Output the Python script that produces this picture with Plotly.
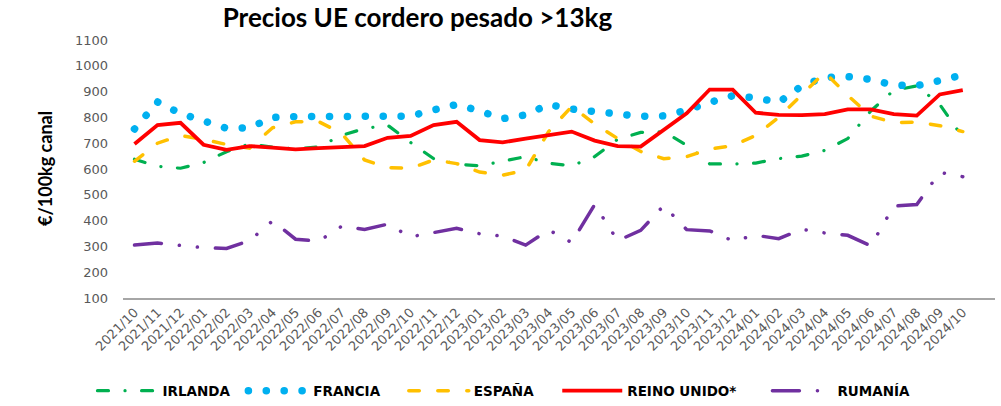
import plotly.graph_objects as go

months = ["2021/10", "2021/11", "2021/12",
          "2022/01", "2022/02", "2022/03", "2022/04", "2022/05", "2022/06",
          "2022/07", "2022/08", "2022/09", "2022/10", "2022/11", "2022/12",
          "2023/01", "2023/02", "2023/03", "2023/04", "2023/05", "2023/06",
          "2023/07", "2023/08", "2023/09", "2023/10", "2023/11", "2023/12",
          "2024/01", "2024/02", "2024/03", "2024/04", "2024/05", "2024/06",
          "2024/07", "2024/08", "2024/09", "2024/10"]

irlanda = [638, 610, 603, 625, 667, 697, 685, 678, 686, 730, 757, 770, 703,
           640, 619, 612, 630, 648, 622, 612, 648, 715, 742, 745, 692, 620,
           619, 623, 640, 650, 672, 718, 825, 905, 922, 850, 722]
francia = [755, 860, 815, 783, 758, 760, 800, 803, 802, 806, 802, 800, 805,
           829, 850, 825, 795, 810, 850, 832, 822, 817, 804, 806, 828, 858,
           884, 876, 858, 922, 955, 958, 947, 925, 923, 943, 965]
espana = [630, 700, 730, 715, 695, 681, 760, 783, 784, 738, 635, 605, 603,
          635, 621, 588, 576, 595, 745, 842, 775, 718, 668, 640, 648, 678,
          690, 730, 800, 887, 975, 885, 805, 780, 782, 768, 745]
reino_unido = [697, 770, 779, 694, 674, 689, 683, 676, 681, 685, 689, 721, 728,
               770, 783, 712, 703, 718, 730, 745, 710, 689, 687, 751, 816, 908,
               908, 818, 810, 809, 813, 831, 831, 813, 807, 889, 906]
rumania = [305, 313, 304, 295, 292, 322, 399, 328, 320, 378, 366, 386, 337,
           355, 370, 349, 340, 305, 364, 315, 462, 322, 362, 458, 365, 360,
           322, 343, 330, 366, 352, 343, 302, 456, 462, 587, 570]

y_ticks = [100, 200, 300, 400, 500, 600, 700, 800, 900, 1000, 1100]

series = [
    ("IRLANDA", irlanda, "#00B050", 3.2, "11px,16.5px,0.1px,16.5px"),
    ("FRANCIA", francia, "#00B0F0", 7.5, "0.1px,17.8px"),
    ("ESPAÑA", espana, "#FFC000", 3.5, "10.5px,18.5px"),
    ("REINO UNIDO*", reino_unido, "#FF0000", 3.8, "solid"),
    ("RUMANÍA", rumania, "#7030A0", 3.5, "27px,18px,0.1px,18px,0.1px,18px"),
]

# legend entry left positions (paper fraction)
legend_x = [-0.035, 0.138, 0.322, 0.498, 0.739]
legend_ids = ["legend", "legend2", "legend3", "legend4", "legend5"]

fig = go.Figure()
for (name, vals, color, width, dash), lid in zip(series, legend_ids):
    fig.add_trace(go.Scatter(
        x=months, y=vals, name=name, mode="lines", legend=lid,
        line=dict(color=color, width=width, dash=dash),
    ))

tick_font = dict(family="DejaVu Sans", size=13, color="#595959")
legend_font = dict(family="DejaVu Sans", size=13.5, color="black",
                   weight="bold")

layout_legends = {}
for lid, lx in zip(legend_ids, legend_x):
    layout_legends[lid] = dict(orientation="h", x=lx, xanchor="left",
                               y=-0.36, yanchor="middle", font=legend_font,
                               itemwidth=60, bgcolor="rgba(0,0,0,0)")

fig.update_layout(
    width=1001, height=406,
    margin=dict(l=123, r=6, t=40, b=108, autoexpand=False),
    paper_bgcolor="white", plot_bgcolor="white",
    title=dict(text="<b>Precios UE cordero pesado >13kg</b>",
               font=dict(family="Lato", size=26, color="black"),
               x=0.417, xanchor="center", y=0.955, yanchor="middle",
               xref="container", yref="container"),
    xaxis=dict(type="category", range=[-0.5, 37.4], tickangle=-45,
               tickfont=dict(family="DejaVu Sans", size=13, color="#595959"),
               showgrid=False, showline=True, linecolor="#A6A6A6",
               linewidth=1.5, ticks="", zeroline=False),
    yaxis=dict(range=[100, 1100], tickvals=y_ticks, tickfont=tick_font,
               showgrid=False, showline=False, zeroline=False, ticks="",
               ticklabelstandoff=14),
    showlegend=True,
    annotations=[dict(text="<b>€/100kg canal</b>", textangle=-90,
                      x=-0.0894, y=0.5, xref="paper", yref="paper",
                      xanchor="center", yanchor="middle", showarrow=False,
                      font=dict(family="Lato", size=18, color="black"))],
    **layout_legends,
)

post = """
document.body.style.margin='0';
var gd=document.getElementById('{plot_id}');
function rc(){
  gd.querySelectorAll('.scatterlayer .trace').forEach(function(t,i){
    if(i!==3){t.querySelectorAll('path.js-line').forEach(function(p){p.style.strokeLinecap='round';});}
  });
  gd.querySelectorAll('.legendlines path').forEach(function(p){
    var s=p.style.stroke||'';
    if(s.indexOf('255, 0, 0')<0){p.style.strokeLinecap='round';}
  });
}
rc();
gd.on('plotly_afterplot', rc);
"""

fig.write_html("out.html", post_script=post,
               config={"displayModeBar": False})
